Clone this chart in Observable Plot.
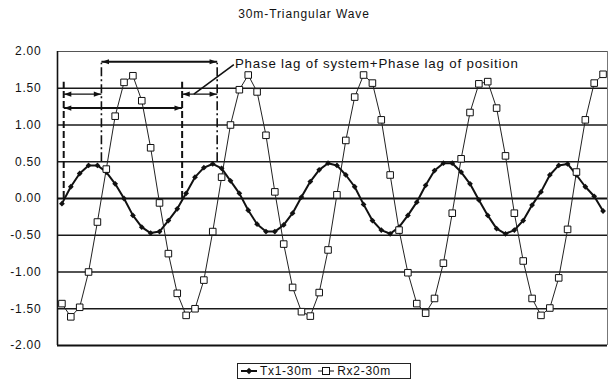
<!DOCTYPE html>
<html>
<head>
<meta charset="utf-8">
<script src="https://cdn.jsdelivr.net/npm/d3@7"></script>
<script src="https://cdn.jsdelivr.net/npm/@observablehq/plot@0.6"></script>
<style>
  body { margin: 0; background: #fff; font-family: "Liberation Sans", Arial, sans-serif; color: #111; }
  #chart { width: 608px; }
  .title { height: 30px; box-sizing: border-box; padding-top: 7px; line-height: 14px;
           font-size: 12px; letter-spacing: 0.9px; text-align: center; }
  .legend { margin-left: 237px; margin-top: 11px; width: 174px; height: 16px; box-sizing: border-box;
            border: 1px solid #222; display: flex; align-items: center; padding-left: 3px;
            font-size: 12px; letter-spacing: 0.7px; line-height: 14px; }
  .legend svg { display: block; margin-right: 3px; }
  .legend .lab { margin-right: 6px; }
</style>
</head>
<body>
<div id="chart">
  <div class="title">30m-Triangular Wave</div>
  <div id="plot"></div>
  <div class="legend">
    <svg width="16" height="10"><line x1="0" y1="5" x2="16" y2="5" stroke="#111" stroke-width="2"/><path d="M8,1.8L11.2,5L8,8.2L4.8,5Z" fill="#111"/></svg>
    <span class="lab">Tx1-30m</span>
    <svg width="16" height="10"><line x1="0" y1="5" x2="16" y2="5" stroke="#111" stroke-width="1"/><rect x="4.5" y="1.5" width="7" height="7" fill="#fff" stroke="#111"/></svg>
    <span class="lab">Rx2-30m</span>
  </div>
</div>
<script>
// Transmitted signal (Tx1) and received signal (Rx2), 30 m, triangular wave
const tx1 = [-0.07, 0.16, 0.34, 0.45, 0.45, 0.36, 0.20, 0.00, -0.23, -0.39, -0.47, -0.45, -0.30, -0.14, 0.07, 0.29,
             0.42, 0.47, 0.41, 0.24, 0.07, -0.16, -0.35, -0.45, -0.45, -0.36, -0.20, 0.02, 0.23, 0.39, 0.48, 0.45,
             0.32, 0.16, -0.08, -0.30, -0.43, -0.48, -0.39, -0.23, -0.05, 0.18, 0.38, 0.48, 0.48, 0.36, 0.20, -0.02,
             -0.23, -0.41, -0.48, -0.43, -0.30, -0.09, 0.09, 0.32, 0.45, 0.47, 0.32, 0.16, 0.03, -0.17];
const rx2 = [-1.43, -1.61, -1.48, -1.00, -0.32, 0.40, 1.12, 1.58, 1.67, 1.33, 0.69, -0.06, -0.75, -1.29, -1.59, -1.50,
             -1.11, -0.45, 0.29, 1.00, 1.48, 1.68, 1.45, 0.86, 0.09, -0.62, -1.21, -1.54, -1.60, -1.28, -0.70, 0.05,
             0.79, 1.38, 1.68, 1.57, 1.07, 0.32, -0.43, -1.01, -1.43, -1.56, -1.36, -0.88, -0.20, 0.54, 1.17, 1.56,
             1.59, 1.23, 0.58, -0.20, -0.85, -1.36, -1.59, -1.49, -1.08, -0.42, 0.36, 1.07, 1.57, 1.69];
const sampleIndex = tx1.map((_, i) => i);

const yTicks = [-2, -1.5, -1, -0.5, 0, 0.5, 1, 1.5, 2];
const yTickLabels = ["-2.00", "-1.50", "-1.00", "-0.50", "0.00", "0.50", "1.00", "1.50", "2.00"];
const gridLines = [-1.5, -1, -0.5, 0.5, 1, 1.5];

// Phase-lag annotation (sample index / signal units)
const dashedMarks = [0.2, 13.55];          // Tx1 zero crossings
const dashDotMarks = [4.45, 17.5];         // Tx1 peaks
const boldSpans = [{x1: 4.45, x2: 17.5, y: 1.86}, {x1: 0.2, x2: 13.55, y: 1.23}];
const thinSpans = [{x1: 0.2, x2: 4.45, y: 1.42}, {x1: 13.55, x2: 17.5, y: 1.42}];
const leader = [{x1: 14.87, y1: 1.42, x2: 19.38, y2: 1.82}];
const noteText = [{x: 19.5, y: 1.84, label: "Phase lag of system+Phase lag of position"}];

const tx = sampleIndex.map(i => ({i, v: tx1[i]}));
const rx = sampleIndex.map(i => ({i, v: rx2[i]}));
const spans = boldSpans.concat(thinSpans);

// filled arrowheads
const headRight = {draw(ctx, size) { const s = Math.sqrt(size); ctx.moveTo(s * 0.6, 0); ctx.lineTo(-s * 0.6, -s * 0.42); ctx.lineTo(-s * 0.6, s * 0.42); ctx.closePath(); }};
const headLeft = {draw(ctx, size) { const s = Math.sqrt(size); ctx.moveTo(-s * 0.6, 0); ctx.lineTo(s * 0.6, -s * 0.42); ctx.lineTo(s * 0.6, s * 0.42); ctx.closePath(); }};

const plot = Plot.plot({
  width: 608,
  height: 322,
  marginLeft: 57,
  marginRight: 1,
  marginTop: 21,
  marginBottom: 7,
  style: {fontFamily: "'Liberation Sans', Arial, sans-serif", fontSize: "12px", letterSpacing: "0.8px", background: "#fff", color: "#111"},
  x: {domain: [-0.5, sampleIndex.length - 0.5], axis: null},
  y: {domain: [-2, 2], axis: null},
  marks: [
    Plot.ruleY(gridLines, {stroke: "#1a1a1a", strokeWidth: 1.4}),
    Plot.ruleY([0], {stroke: "#111", strokeWidth: 2}),
    Plot.ruleY([2], {stroke: "#555", strokeWidth: 1}),
    Plot.ruleY([-2], {stroke: "#111", strokeWidth: 2}),
    Plot.ruleX([sampleIndex.length - 0.5], {stroke: "#777", strokeWidth: 1}),
    Plot.ruleX([-0.5], {stroke: "#111", strokeWidth: 1.6}),
    Plot.axisY(yTicks, {tickSize: 0, tickPadding: 16, tickFormat: d => yTickLabels[yTicks.indexOf(d)], fontSize: 12, fill: "#111"}),

    // annotation guides
    Plot.ruleX(dashedMarks, {y1: 0, y2: 1.58, stroke: "#111", strokeWidth: 2, strokeDasharray: "7,3"}),
    Plot.ruleX(dashDotMarks, {y1: 0.5, y2: 1.84, stroke: "#111", strokeWidth: 1.6, strokeDasharray: "9,3,2,3"}),
    Plot.link(boldSpans, {x1: "x1", x2: "x2", y1: "y", y2: "y", stroke: "#111", strokeWidth: 2}),
    Plot.link(thinSpans, {x1: "x1", x2: "x2", y1: "y", y2: "y", stroke: "#111", strokeWidth: 1.4}),
    Plot.dot(spans, {x: "x1", y: "y", dx: 4, symbol: headLeft, r: 3.4, fill: "#111", stroke: "none"}),
    Plot.dot(spans, {x: "x2", y: "y", dx: -4, symbol: headRight, r: 3.4, fill: "#111", stroke: "none"}),
    Plot.link(leader, {x1: "x1", y1: "y1", x2: "x2", y2: "y2", stroke: "#111", strokeWidth: 1.6}),
    Plot.text(noteText, {x: "x", y: "y", text: "label", textAnchor: "start", fontSize: 13.3, fill: "#111"}),

    // series
    Plot.line(rx, {x: "i", y: "v", stroke: "#222", strokeWidth: 1}),
    Plot.line(tx, {x: "i", y: "v", stroke: "#111", strokeWidth: 2}),
    Plot.dot(tx, {x: "i", y: "v", symbol: "diamond2", r: 2.6, fill: "#111", stroke: "none"}),
    Plot.dot(rx, {x: "i", y: "v", symbol: "square", r: 3.7, fill: "#fff", stroke: "#111", strokeWidth: 1})
  ]
});
document.getElementById("plot").appendChild(plot);
</script>
</body>
</html>
